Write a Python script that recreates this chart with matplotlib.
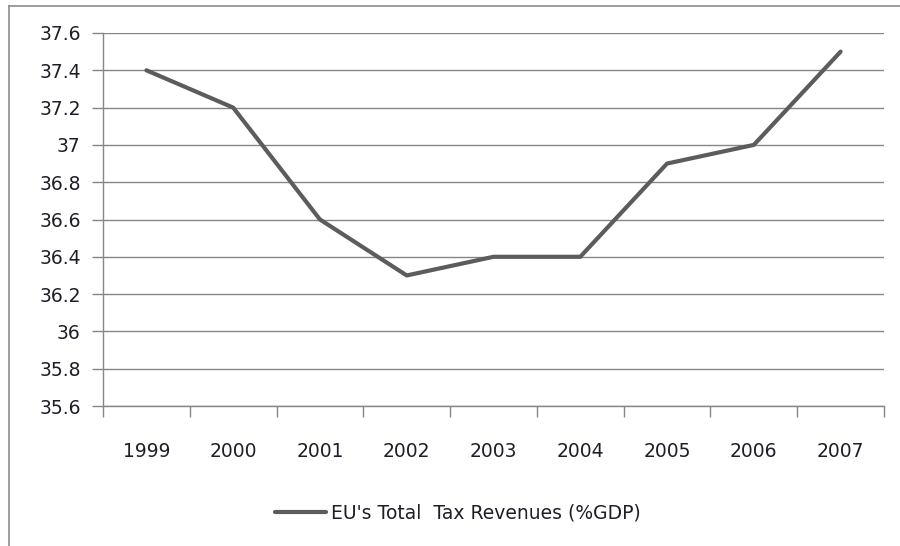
import matplotlib.pyplot as plt
from matplotlib.lines import Line2D

# Data
years = ['1999', '2000', '2001', '2002', '2003', '2004', '2005', '2006', '2007']
tax_revenues = [37.4, 37.2, 36.6, 36.3, 36.4, 36.4, 36.9, 37.0, 37.5]
y_ticks = [35.6, 35.8, 36.0, 36.2, 36.4, 36.6, 36.8, 37.0, 37.2, 37.4, 37.6]
y_labels = ['35.6', '35.8', '36', '36.2', '36.4', '36.6', '36.8', '37', '37.2', '37.4', '37.6']

W, H = 900, 546
fig = plt.figure(figsize=(W / 100, H / 100), dpi=100)

# outer chart frame (only top and left edges visible)
frame_col = '#8c8c8c'
fig.add_artist(Line2D([9 / W, 1], [1 - 6 / H, 1 - 6 / H], color=frame_col, lw=1.2))
fig.add_artist(Line2D([9 / W, 9 / W], [0, 1 - 6 / H], color=frame_col, lw=1.2))

left, right, top, bottom = 103, 884, 33, 406
ax = fig.add_axes([left / W, 1 - bottom / H, (right - left) / W, (bottom - top) / H])

x = [i + 0.5 for i in range(len(years))]
line, = ax.plot(x, tax_revenues, color='#5c5c5c', lw=3.0, solid_joinstyle='round',
                solid_capstyle='round', zorder=3)

grid_col = '#868686'
ax.set_xlim(0, len(years))
ax.set_ylim(35.6, 37.6)
ax.set_yticks(y_ticks)
ax.set_yticklabels(y_labels)
ax.set_xticks(x)
ax.set_xticklabels(years)
ax.set_xticks(range(len(years) + 1), minor=True)
ax.yaxis.grid(True, color=grid_col, lw=1.0)
ax.set_axisbelow(True)

for s in ['top', 'right']:
    ax.spines[s].set_visible(False)
for s in ['left', 'bottom']:
    ax.spines[s].set_color(grid_col)
    ax.spines[s].set_linewidth(1.0)

text_col = '#1e1e28'
ax.tick_params(axis='y', length=8, width=1.0, color=grid_col, labelsize=13.5,
               labelcolor=text_col, pad=8)
ax.tick_params(axis='x', which='major', length=0, labelsize=13.5, labelcolor=text_col, pad=26)
ax.tick_params(axis='x', which='minor', length=8, width=1.0, color=grid_col)

fig.legend([line], ["EU's Total  Tax Revenues (%GDP)"], loc='center',
           bbox_to_anchor=(458 / W, 1 - 513 / H), frameon=False, fontsize=13.5,
           handlelength=2.7, handletextpad=0.27, labelcolor=text_col)

fig.savefig('out.png', dpi=100, facecolor='white')
